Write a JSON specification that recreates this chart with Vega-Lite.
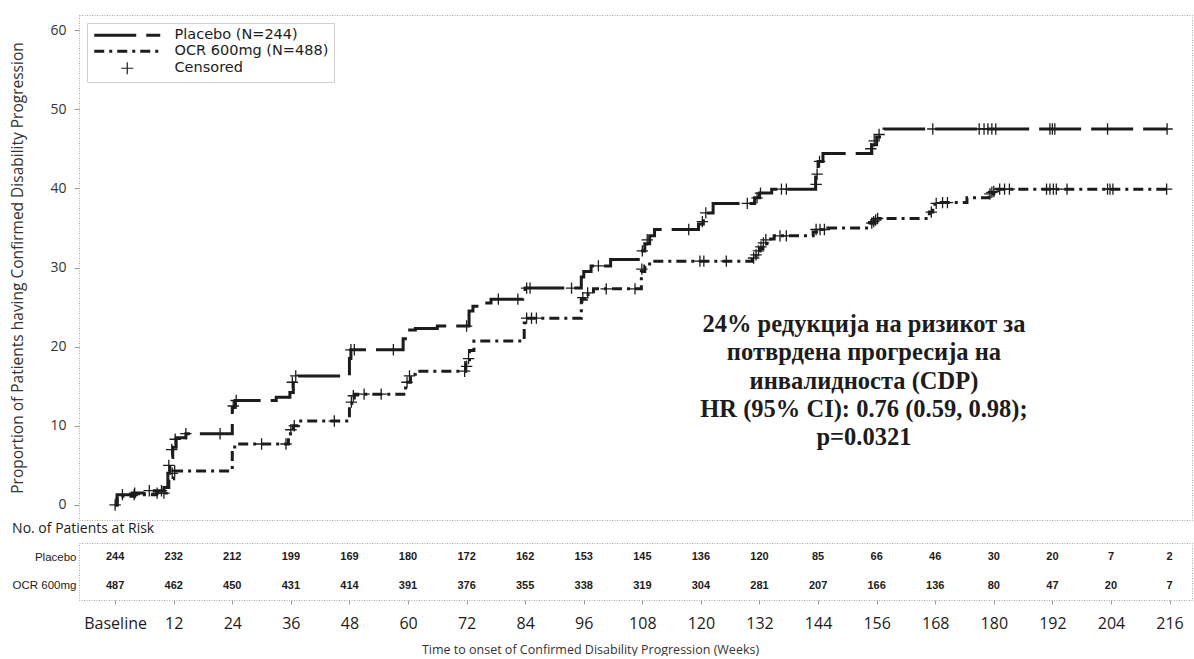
{
  "$schema": "https://vega.github.io/schema/vega-lite/v6.json",
  "background": "white",
  "padding": {"left": 10, "top": 14, "right": 0, "bottom": 0},
  "spacing": 0,
  "config": {
    "view": {"stroke": "#a8a8a8", "strokeDash": [1, 1.5], "strokeWidth": 1},
    "axis": {"grid": false},
    "font": "Open Sans"
  },
  "datasets": {
    "curves": [
      {"legend": "Placebo (N=244)", "week": 0, "pct": 0},
      {"legend": "Placebo (N=244)", "week": 0.4, "pct": 1.3},
      {"legend": "Placebo (N=244)", "week": 3.5, "pct": 1.5},
      {"legend": "Placebo (N=244)", "week": 6, "pct": 1.8},
      {"legend": "Placebo (N=244)", "week": 10, "pct": 2.2},
      {"legend": "Placebo (N=244)", "week": 10.8, "pct": 4},
      {"legend": "Placebo (N=244)", "week": 11.2, "pct": 6},
      {"legend": "Placebo (N=244)", "week": 11.8, "pct": 7.3},
      {"legend": "Placebo (N=244)", "week": 12.5, "pct": 8.5},
      {"legend": "Placebo (N=244)", "week": 14.5, "pct": 9.0},
      {"legend": "Placebo (N=244)", "week": 24, "pct": 12.3},
      {"legend": "Placebo (N=244)", "week": 24.6, "pct": 13.2},
      {"legend": "Placebo (N=244)", "week": 33, "pct": 13.6},
      {"legend": "Placebo (N=244)", "week": 35.8, "pct": 14.2},
      {"legend": "Placebo (N=244)", "week": 36.5, "pct": 16.0},
      {"legend": "Placebo (N=244)", "week": 37.5, "pct": 16.3},
      {"legend": "Placebo (N=244)", "week": 48, "pct": 18.5},
      {"legend": "Placebo (N=244)", "week": 48.3, "pct": 19.6},
      {"legend": "Placebo (N=244)", "week": 59, "pct": 21.0},
      {"legend": "Placebo (N=244)", "week": 60, "pct": 22.1},
      {"legend": "Placebo (N=244)", "week": 61.5, "pct": 22.3},
      {"legend": "Placebo (N=244)", "week": 66, "pct": 22.6},
      {"legend": "Placebo (N=244)", "week": 72.5, "pct": 24.5},
      {"legend": "Placebo (N=244)", "week": 73.3, "pct": 25.1},
      {"legend": "Placebo (N=244)", "week": 75, "pct": 25.5},
      {"legend": "Placebo (N=244)", "week": 77, "pct": 26.0},
      {"legend": "Placebo (N=244)", "week": 83.5, "pct": 26.5},
      {"legend": "Placebo (N=244)", "week": 84, "pct": 27.4},
      {"legend": "Placebo (N=244)", "week": 95.5, "pct": 28.8},
      {"legend": "Placebo (N=244)", "week": 96, "pct": 29.5},
      {"legend": "Placebo (N=244)", "week": 97.5, "pct": 30.2},
      {"legend": "Placebo (N=244)", "week": 101.5, "pct": 31.0},
      {"legend": "Placebo (N=244)", "week": 107.5, "pct": 32.1},
      {"legend": "Placebo (N=244)", "week": 108.5, "pct": 33.0},
      {"legend": "Placebo (N=244)", "week": 109.5, "pct": 34.0},
      {"legend": "Placebo (N=244)", "week": 110.5, "pct": 34.8},
      {"legend": "Placebo (N=244)", "week": 119.5, "pct": 35.5},
      {"legend": "Placebo (N=244)", "week": 120.5, "pct": 36.9},
      {"legend": "Placebo (N=244)", "week": 122.5, "pct": 38.1},
      {"legend": "Placebo (N=244)", "week": 131, "pct": 38.8},
      {"legend": "Placebo (N=244)", "week": 132, "pct": 39.4},
      {"legend": "Placebo (N=244)", "week": 134.5, "pct": 39.9},
      {"legend": "Placebo (N=244)", "week": 143.5, "pct": 42.0},
      {"legend": "Placebo (N=244)", "week": 144, "pct": 43.4},
      {"legend": "Placebo (N=244)", "week": 145, "pct": 44.4},
      {"legend": "Placebo (N=244)", "week": 155, "pct": 45.5},
      {"legend": "Placebo (N=244)", "week": 156, "pct": 46.5},
      {"legend": "Placebo (N=244)", "week": 157.5, "pct": 47.5},
      {"legend": "Placebo (N=244)", "week": 215.5, "pct": 47.5},
      {"legend": "OCR 600mg (N=488)", "week": 0, "pct": 0},
      {"legend": "OCR 600mg (N=488)", "week": 0.4, "pct": 1.1},
      {"legend": "OCR 600mg (N=488)", "week": 4, "pct": 1.3},
      {"legend": "OCR 600mg (N=488)", "week": 8.5, "pct": 1.5},
      {"legend": "OCR 600mg (N=488)", "week": 10.5, "pct": 2.2},
      {"legend": "OCR 600mg (N=488)", "week": 11, "pct": 3.3},
      {"legend": "OCR 600mg (N=488)", "week": 12, "pct": 4.3},
      {"legend": "OCR 600mg (N=488)", "week": 24, "pct": 7.0},
      {"legend": "OCR 600mg (N=488)", "week": 24.5, "pct": 7.7},
      {"legend": "OCR 600mg (N=488)", "week": 35.5, "pct": 9.0},
      {"legend": "OCR 600mg (N=488)", "week": 36.5, "pct": 10.0},
      {"legend": "OCR 600mg (N=488)", "week": 37.5, "pct": 10.6},
      {"legend": "OCR 600mg (N=488)", "week": 48, "pct": 12.5},
      {"legend": "OCR 600mg (N=488)", "week": 48.5, "pct": 13.5},
      {"legend": "OCR 600mg (N=488)", "week": 49, "pct": 14.0},
      {"legend": "OCR 600mg (N=488)", "week": 59.5, "pct": 15.5},
      {"legend": "OCR 600mg (N=488)", "week": 60.5, "pct": 16.5},
      {"legend": "OCR 600mg (N=488)", "week": 61.5, "pct": 16.9},
      {"legend": "OCR 600mg (N=488)", "week": 71.8, "pct": 18.0},
      {"legend": "OCR 600mg (N=488)", "week": 72.6, "pct": 19.5},
      {"legend": "OCR 600mg (N=488)", "week": 73.5, "pct": 20.7},
      {"legend": "OCR 600mg (N=488)", "week": 83.8, "pct": 23.0},
      {"legend": "OCR 600mg (N=488)", "week": 84.5, "pct": 23.6},
      {"legend": "OCR 600mg (N=488)", "week": 95.5, "pct": 26.0},
      {"legend": "OCR 600mg (N=488)", "week": 96.5, "pct": 26.6},
      {"legend": "OCR 600mg (N=488)", "week": 98, "pct": 27.3},
      {"legend": "OCR 600mg (N=488)", "week": 107.8, "pct": 29.5},
      {"legend": "OCR 600mg (N=488)", "week": 108.5, "pct": 30.2},
      {"legend": "OCR 600mg (N=488)", "week": 109.5, "pct": 30.8},
      {"legend": "OCR 600mg (N=488)", "week": 130.5, "pct": 31.2},
      {"legend": "OCR 600mg (N=488)", "week": 131.3, "pct": 31.8},
      {"legend": "OCR 600mg (N=488)", "week": 132, "pct": 32.4},
      {"legend": "OCR 600mg (N=488)", "week": 132.7, "pct": 33.0},
      {"legend": "OCR 600mg (N=488)", "week": 133.5, "pct": 33.6},
      {"legend": "OCR 600mg (N=488)", "week": 135, "pct": 34.0},
      {"legend": "OCR 600mg (N=488)", "week": 143, "pct": 34.5},
      {"legend": "OCR 600mg (N=488)", "week": 144, "pct": 34.8},
      {"legend": "OCR 600mg (N=488)", "week": 146, "pct": 35.0},
      {"legend": "OCR 600mg (N=488)", "week": 154.5, "pct": 35.6},
      {"legend": "OCR 600mg (N=488)", "week": 155.5, "pct": 36.0},
      {"legend": "OCR 600mg (N=488)", "week": 156.5, "pct": 36.2},
      {"legend": "OCR 600mg (N=488)", "week": 166.8, "pct": 37.0},
      {"legend": "OCR 600mg (N=488)", "week": 167.5, "pct": 38.0},
      {"legend": "OCR 600mg (N=488)", "week": 168.5, "pct": 38.2},
      {"legend": "OCR 600mg (N=488)", "week": 174.5, "pct": 38.8},
      {"legend": "OCR 600mg (N=488)", "week": 179, "pct": 39.3},
      {"legend": "OCR 600mg (N=488)", "week": 180.5, "pct": 39.9},
      {"legend": "OCR 600mg (N=488)", "week": 216.2, "pct": 39.9}
    ],
    "censored": [
      {"legend": "Censored", "curve": "Placebo", "week": 0, "pct": 0},
      {"legend": "Censored", "curve": "Placebo", "week": 1.5, "pct": 1.3},
      {"legend": "Censored", "curve": "Placebo", "week": 4, "pct": 1.5},
      {"legend": "Censored", "curve": "Placebo", "week": 7, "pct": 1.8},
      {"legend": "Censored", "curve": "Placebo", "week": 9.5, "pct": 1.8},
      {"legend": "Censored", "curve": "Placebo", "week": 11, "pct": 5},
      {"legend": "Censored", "curve": "Placebo", "week": 11.6, "pct": 7},
      {"legend": "Censored", "curve": "Placebo", "week": 12.3, "pct": 8.3},
      {"legend": "Censored", "curve": "Placebo", "week": 14.5, "pct": 9.0},
      {"legend": "Censored", "curve": "Placebo", "week": 21.5, "pct": 9.0},
      {"legend": "Censored", "curve": "Placebo", "week": 24.2, "pct": 12.5},
      {"legend": "Censored", "curve": "Placebo", "week": 24.8, "pct": 13.2},
      {"legend": "Censored", "curve": "Placebo", "week": 36.3, "pct": 15.5},
      {"legend": "Censored", "curve": "Placebo", "week": 37, "pct": 16.3},
      {"legend": "Censored", "curve": "Placebo", "week": 48.3, "pct": 19.6},
      {"legend": "Censored", "curve": "Placebo", "week": 49, "pct": 19.6},
      {"legend": "Censored", "curve": "Placebo", "week": 57, "pct": 19.6},
      {"legend": "Censored", "curve": "Placebo", "week": 72, "pct": 22.6},
      {"legend": "Censored", "curve": "Placebo", "week": 78.5, "pct": 26.0},
      {"legend": "Censored", "curve": "Placebo", "week": 82.5, "pct": 26.0},
      {"legend": "Censored", "curve": "Placebo", "week": 84.3, "pct": 27.4},
      {"legend": "Censored", "curve": "Placebo", "week": 85, "pct": 27.4},
      {"legend": "Censored", "curve": "Placebo", "week": 93.5, "pct": 27.4},
      {"legend": "Censored", "curve": "Placebo", "week": 99, "pct": 30.2},
      {"legend": "Censored", "curve": "Placebo", "week": 108, "pct": 32.1},
      {"legend": "Censored", "curve": "Placebo", "week": 109, "pct": 33.5},
      {"legend": "Censored", "curve": "Placebo", "week": 117.5, "pct": 34.8},
      {"legend": "Censored", "curve": "Placebo", "week": 120.3, "pct": 35.8},
      {"legend": "Censored", "curve": "Placebo", "week": 121, "pct": 36.9},
      {"legend": "Censored", "curve": "Placebo", "week": 129.5, "pct": 38.1},
      {"legend": "Censored", "curve": "Placebo", "week": 131.5, "pct": 38.8},
      {"legend": "Censored", "curve": "Placebo", "week": 132.2, "pct": 39.4},
      {"legend": "Censored", "curve": "Placebo", "week": 136.5, "pct": 39.9},
      {"legend": "Censored", "curve": "Placebo", "week": 137.5, "pct": 39.9},
      {"legend": "Censored", "curve": "Placebo", "week": 143.6, "pct": 40.5},
      {"legend": "Censored", "curve": "Placebo", "week": 143.8, "pct": 41.8},
      {"legend": "Censored", "curve": "Placebo", "week": 144.3, "pct": 43.4},
      {"legend": "Censored", "curve": "Placebo", "week": 154.8, "pct": 45.0},
      {"legend": "Censored", "curve": "Placebo", "week": 155.5, "pct": 46.0},
      {"legend": "Censored", "curve": "Placebo", "week": 156.5, "pct": 46.8},
      {"legend": "Censored", "curve": "Placebo", "week": 167.5, "pct": 47.5},
      {"legend": "Censored", "curve": "Placebo", "week": 177, "pct": 47.5},
      {"legend": "Censored", "curve": "Placebo", "week": 178, "pct": 47.5},
      {"legend": "Censored", "curve": "Placebo", "week": 178.8, "pct": 47.5},
      {"legend": "Censored", "curve": "Placebo", "week": 179.6, "pct": 47.5},
      {"legend": "Censored", "curve": "Placebo", "week": 180.4, "pct": 47.5},
      {"legend": "Censored", "curve": "Placebo", "week": 191.5, "pct": 47.5},
      {"legend": "Censored", "curve": "Placebo", "week": 192, "pct": 47.5},
      {"legend": "Censored", "curve": "Placebo", "week": 192.5, "pct": 47.5},
      {"legend": "Censored", "curve": "Placebo", "week": 203.3, "pct": 47.5},
      {"legend": "Censored", "curve": "Placebo", "week": 215.5, "pct": 47.5},
      {"legend": "Censored", "curve": "OCR", "week": 3.9, "pct": 1.3},
      {"legend": "Censored", "curve": "OCR", "week": 8.6, "pct": 1.5},
      {"legend": "Censored", "curve": "OCR", "week": 10, "pct": 1.5},
      {"legend": "Censored", "curve": "OCR", "week": 11.7, "pct": 4.0},
      {"legend": "Censored", "curve": "OCR", "week": 12.2, "pct": 4.3},
      {"legend": "Censored", "curve": "OCR", "week": 30, "pct": 7.7},
      {"legend": "Censored", "curve": "OCR", "week": 35, "pct": 7.7},
      {"legend": "Censored", "curve": "OCR", "week": 36, "pct": 9.5},
      {"legend": "Censored", "curve": "OCR", "week": 36.7, "pct": 10.0},
      {"legend": "Censored", "curve": "OCR", "week": 44.9, "pct": 10.6},
      {"legend": "Censored", "curve": "OCR", "week": 48.4, "pct": 13.0},
      {"legend": "Censored", "curve": "OCR", "week": 48.8, "pct": 13.8},
      {"legend": "Censored", "curve": "OCR", "week": 51, "pct": 14.0},
      {"legend": "Censored", "curve": "OCR", "week": 54.5, "pct": 14.0},
      {"legend": "Censored", "curve": "OCR", "week": 59.8, "pct": 15.5},
      {"legend": "Censored", "curve": "OCR", "week": 60.3, "pct": 16.3},
      {"legend": "Censored", "curve": "OCR", "week": 71.6, "pct": 16.9},
      {"legend": "Censored", "curve": "OCR", "week": 72, "pct": 17.5},
      {"legend": "Censored", "curve": "OCR", "week": 72.4, "pct": 18.5},
      {"legend": "Censored", "curve": "OCR", "week": 84.3, "pct": 23.6},
      {"legend": "Censored", "curve": "OCR", "week": 85.3, "pct": 23.6},
      {"legend": "Censored", "curve": "OCR", "week": 86.3, "pct": 23.6},
      {"legend": "Censored", "curve": "OCR", "week": 95.8, "pct": 26.2},
      {"legend": "Censored", "curve": "OCR", "week": 96.8, "pct": 26.8},
      {"legend": "Censored", "curve": "OCR", "week": 100.6, "pct": 27.3},
      {"legend": "Censored", "curve": "OCR", "week": 106.5, "pct": 27.3},
      {"legend": "Censored", "curve": "OCR", "week": 107.9, "pct": 29.8},
      {"legend": "Censored", "curve": "OCR", "week": 119.8, "pct": 30.8},
      {"legend": "Censored", "curve": "OCR", "week": 120.6, "pct": 30.8},
      {"legend": "Censored", "curve": "OCR", "week": 125.2, "pct": 30.8},
      {"legend": "Censored", "curve": "OCR", "week": 130.8, "pct": 31.2},
      {"legend": "Censored", "curve": "OCR", "week": 131.3, "pct": 31.6},
      {"legend": "Censored", "curve": "OCR", "week": 131.8, "pct": 32.1},
      {"legend": "Censored", "curve": "OCR", "week": 132.3, "pct": 32.6},
      {"legend": "Censored", "curve": "OCR", "week": 132.8, "pct": 33.1},
      {"legend": "Censored", "curve": "OCR", "week": 133.3, "pct": 33.5},
      {"legend": "Censored", "curve": "OCR", "week": 136.2, "pct": 34.0},
      {"legend": "Censored", "curve": "OCR", "week": 137.5, "pct": 34.0},
      {"legend": "Censored", "curve": "OCR", "week": 143.6, "pct": 34.8},
      {"legend": "Censored", "curve": "OCR", "week": 144.4, "pct": 34.8},
      {"legend": "Censored", "curve": "OCR", "week": 145.3, "pct": 34.8},
      {"legend": "Censored", "curve": "OCR", "week": 155, "pct": 35.6},
      {"legend": "Censored", "curve": "OCR", "week": 155.4, "pct": 35.8},
      {"legend": "Censored", "curve": "OCR", "week": 155.8, "pct": 36.0},
      {"legend": "Censored", "curve": "OCR", "week": 156.2, "pct": 36.2},
      {"legend": "Censored", "curve": "OCR", "week": 167.2, "pct": 37.0},
      {"legend": "Censored", "curve": "OCR", "week": 168.2, "pct": 38.1},
      {"legend": "Censored", "curve": "OCR", "week": 169.5, "pct": 38.2},
      {"legend": "Censored", "curve": "OCR", "week": 170.5, "pct": 38.2},
      {"legend": "Censored", "curve": "OCR", "week": 179.2, "pct": 39.3},
      {"legend": "Censored", "curve": "OCR", "week": 179.6, "pct": 39.5},
      {"legend": "Censored", "curve": "OCR", "week": 180, "pct": 39.6},
      {"legend": "Censored", "curve": "OCR", "week": 181.2, "pct": 39.9},
      {"legend": "Censored", "curve": "OCR", "week": 182.2, "pct": 39.9},
      {"legend": "Censored", "curve": "OCR", "week": 183.2, "pct": 39.9},
      {"legend": "Censored", "curve": "OCR", "week": 190.8, "pct": 39.9},
      {"legend": "Censored", "curve": "OCR", "week": 191.5, "pct": 39.9},
      {"legend": "Censored", "curve": "OCR", "week": 192.2, "pct": 39.9},
      {"legend": "Censored", "curve": "OCR", "week": 192.8, "pct": 39.9},
      {"legend": "Censored", "curve": "OCR", "week": 195, "pct": 39.9},
      {"legend": "Censored", "curve": "OCR", "week": 203.3, "pct": 39.9},
      {"legend": "Censored", "curve": "OCR", "week": 203.8, "pct": 39.9},
      {"legend": "Censored", "curve": "OCR", "week": 204.4, "pct": 39.9},
      {"legend": "Censored", "curve": "OCR", "week": 215.4, "pct": 39.9}
    ],
    "risk": [
      {"arm": "Placebo", "week": 0, "n": 244},
      {"arm": "Placebo", "week": 12, "n": 232},
      {"arm": "Placebo", "week": 24, "n": 212},
      {"arm": "Placebo", "week": 36, "n": 199},
      {"arm": "Placebo", "week": 48, "n": 169},
      {"arm": "Placebo", "week": 60, "n": 180},
      {"arm": "Placebo", "week": 72, "n": 172},
      {"arm": "Placebo", "week": 84, "n": 162},
      {"arm": "Placebo", "week": 96, "n": 153},
      {"arm": "Placebo", "week": 108, "n": 145},
      {"arm": "Placebo", "week": 120, "n": 136},
      {"arm": "Placebo", "week": 132, "n": 120},
      {"arm": "Placebo", "week": 144, "n": 85},
      {"arm": "Placebo", "week": 156, "n": 66},
      {"arm": "Placebo", "week": 168, "n": 46},
      {"arm": "Placebo", "week": 180, "n": 30},
      {"arm": "Placebo", "week": 192, "n": 20},
      {"arm": "Placebo", "week": 204, "n": 7},
      {"arm": "Placebo", "week": 216, "n": 2},
      {"arm": "OCR 600mg", "week": 0, "n": 487},
      {"arm": "OCR 600mg", "week": 12, "n": 462},
      {"arm": "OCR 600mg", "week": 24, "n": 450},
      {"arm": "OCR 600mg", "week": 36, "n": 431},
      {"arm": "OCR 600mg", "week": 48, "n": 414},
      {"arm": "OCR 600mg", "week": 60, "n": 391},
      {"arm": "OCR 600mg", "week": 72, "n": 376},
      {"arm": "OCR 600mg", "week": 84, "n": 355},
      {"arm": "OCR 600mg", "week": 96, "n": 338},
      {"arm": "OCR 600mg", "week": 108, "n": 319},
      {"arm": "OCR 600mg", "week": 120, "n": 304},
      {"arm": "OCR 600mg", "week": 132, "n": 281},
      {"arm": "OCR 600mg", "week": 144, "n": 207},
      {"arm": "OCR 600mg", "week": 156, "n": 166},
      {"arm": "OCR 600mg", "week": 168, "n": 136},
      {"arm": "OCR 600mg", "week": 180, "n": 80},
      {"arm": "OCR 600mg", "week": 192, "n": 47},
      {"arm": "OCR 600mg", "week": 204, "n": 20},
      {"arm": "OCR 600mg", "week": 216, "n": 7}
    ]
  },
  "vconcat": [
    {
      "width": 1113,
      "height": 505,
      "layer": [
        {
          "data": {"name": "curves"},
          "mark": {"type": "line", "interpolate": "step-after", "strokeWidth": 3, "color": "#1c1c1c"},
          "encoding": {
            "x": {"field": "week", "type": "quantitative", "scale": {"domain": [-7.4, 220.6], "nice": false, "zero": false}, "axis": null},
            "y": {
              "field": "pct", "type": "quantitative",
              "scale": {"domain": [-1.9, 61.9], "nice": false, "zero": false},
              "axis": {
                "values": [0, 10, 20, 30, 40, 50, 60],
                "title": "Proportion of Patients having Confirmed Disability Progression",
                "domain": false, "tickSize": 5, "tickColor": "#999999", "labelPadding": 8,
                "labelFont": "Open Sans", "labelFontSize": 14, "labelColor": "#333333",
                "titleFont": "Open Sans", "titleFontSize": 15.5, "titleFontWeight": "normal", "titleColor": "#333333", "titlePadding": 24
              }
            },
            "strokeDash": {
              "field": "legend", "type": "nominal",
              "scale": {"domain": ["Placebo (N=244)", "OCR 600mg (N=488)", "Censored"], "range": [[42, 10], [10, 5, 3, 5], [1, 0]]},
              "legend": {
                "title": null, "orient": "top-left", "offset": 8, "padding": 5,
                "fillColor": "white", "strokeColor": "#cfcfcf",
                "symbolSize": 144, "symbolOffset": 28, "labelOffset": 40,
                "symbolStrokeColor": "#1c1c1c", "symbolFillColor": "transparent", "symbolStrokeWidth": 3,
                "labelFont": "DejaVu Sans", "labelFontSize": 14.5, "labelColor": "#1c1c1c", "rowPadding": 1,
                "encode": {"symbols": {"update": {"strokeWidth": {"signal": "datum.label === 'Censored' ? 1.2 : 3"}}}}
              }
            }
          }
        },
        {
          "data": {"name": "censored"},
          "mark": {"type": "point", "filled": false, "strokeWidth": 1.3, "color": "#1c1c1c", "opacity": 1},
          "encoding": {
            "x": {"field": "week", "type": "quantitative"},
            "y": {"field": "pct", "type": "quantitative"},
            "size": {"value": 130},
            "shape": {
              "field": "legend", "type": "nominal",
              "scale": {"domain": ["Placebo (N=244)", "OCR 600mg (N=488)", "Censored"], "range": ["M-5.5,0H5.5", "M-5.5,0H5.5", "M-1,0H1M0,-1V1"]},
              "legend": {
                "title": null, "orient": "top-left", "offset": 8, "padding": 5,
                "fillColor": "white", "strokeColor": "#cfcfcf",
                "symbolSize": 144, "symbolOffset": 28, "labelOffset": 40,
                "symbolStrokeColor": "#1c1c1c", "symbolFillColor": "transparent", "symbolStrokeWidth": 3,
                "labelFont": "DejaVu Sans", "labelFontSize": 14.5, "labelColor": "#1c1c1c", "rowPadding": 1,
                "encode": {"symbols": {"update": {"strokeWidth": {"signal": "datum.label === 'Censored' ? 1.2 : 3"}}}}
              }
            },
            "strokeDash": {"field": "legend", "type": "nominal"}
          }
        },
        {
          "data": {"values": [{"note": "24% редукција на ризикот за\nпотврдена прогресија на\nинвалидноста (CDP)\nHR (95% CI): 0.76 (0.59, 0.98);\np=0.0321"}]},
          "mark": {"type": "text", "font": "Liberation Serif", "fontWeight": "bold", "fontSize": 24.5, "lineHeight": 28.3, "lineBreak": "\n", "align": "center", "baseline": "middle", "color": "#1c1c1c"},
          "encoding": {
            "x": {"datum": 153.4, "type": "quantitative"},
            "y": {"datum": 22.74, "type": "quantitative"},
            "text": {"field": "note"}
          }
        }
      ]
    },
    {
      "data": {"name": "risk"},
      "width": 1113,
      "height": 57,
      "title": {"text": "No. of Patients at Risk", "anchor": "start", "frame": "bounds", "offset": 7, "fontSize": 14, "font": "Open Sans", "fontWeight": "normal", "color": "#1c1c1c"},
      "mark": {"type": "text", "font": "Liberation Sans", "fontWeight": "bold", "fontSize": 11, "color": "#1c1c1c"},
      "encoding": {
        "x": {
          "field": "week", "type": "quantitative",
          "scale": {"domain": [-7.4, 220.6], "nice": false, "zero": false},
          "axis": {
            "values": [0, 12, 24, 36, 48, 60, 72, 84, 96, 108, 120, 132, 144, 156, 168, 180, 192, 204, 216],
            "labelExpr": "datum.value == 0 ? 'Baseline' : datum.label",
            "title": "Time to onset of Confirmed Disability Progression (Weeks)",
            "domain": false, "tickSize": 4, "tickColor": "#999999", "labelPadding": 11,
            "labelFont": "Open Sans", "labelFontSize": 16, "labelColor": "#1c1c1c",
            "titleFont": "Open Sans", "titleFontSize": 12.5, "titleFontWeight": "normal", "titleColor": "#333333", "titlePadding": 12, "titleX": 511
          }
        },
        "y": {
          "field": "arm", "type": "nominal",
          "scale": {"domain": ["Placebo", "OCR 600mg"]},
          "axis": {"title": null, "ticks": false, "domain": false, "labelFont": "Liberation Sans", "labelFontSize": 11.5, "labelColor": "#1c1c1c", "labelPadding": 3}
        },
        "text": {"field": "n", "type": "quantitative"}
      }
    }
  ]
}
